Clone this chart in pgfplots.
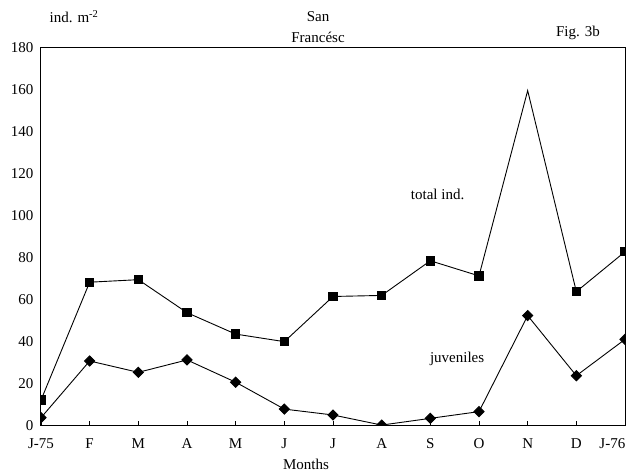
\documentclass[border=0pt]{standalone}
\usepackage{fontspec}
\setmainfont{Liberation Serif}
\usepackage{pgfplots}
\pgfplotsset{compat=1.18}
\begin{document}
\begin{tikzpicture}[font=\fontsize{15bp}{18bp}\selectfont]
\useasboundingbox (-41bp,-48.3bp) rectangle (585bp,425.7bp);
\begin{scope}
\clip (-41bp,-48.3bp) rectangle (585bp,425.7bp);
\begin{axis}[
  scale only axis, width=584bp, height=378.2bp,
  at={(0,0)}, anchor=south west,
  xmin=0, xmax=12, ymin=0, ymax=180,
  xtick={0,...,12},
  xticklabels={J-75,F,M,A,M,J,J,A,S,O,N,D,{}},
  ytick={0,20,...,180},
  xtick pos=bottom, ytick pos=left,
  tick align=inside, major tick length=4.5bp,
  ytick style={draw=none},
  xtick style={black, line width=0.8bp},
  x tick label style={anchor=base, yshift=-23bp},
  y tick label style={xshift=-4bp},
  axis line style={line width=1bp},
  /pgf/number format/assume math mode=true,
  clip marker paths=true,
]
\addplot[black, line width=0.9bp, mark=square*, mark size=4.2bp,
  mark indices={1,2,3,4,5,6,7,8,9,10,12,13}] coordinates {
  (0,12.2) (1,68.3) (2,69.5) (3,53.8) (4,43.6) (5,40.0) (6,61.5)
  (7,62.0) (8,78.5) (9,71.3) (10,159.5) (11,63.8) (12,82.8)};
\addplot[black, line width=0.9bp, mark=square*, mark size=3.6bp,
  mark options={rotate=45}] coordinates {
  (0,3.8) (1,30.8) (2,25.4) (3,31.3) (4,20.7) (5,7.9) (6,5.1)
  (7,0.3) (8,3.5) (9,6.7) (10,52.4) (11,23.8) (12,41.1)};
\node at (axis cs:8.15,110) {total ind.};
\node at (axis cs:8.55,32) {juveniles};
\end{axis}
\node[anchor=base east, inner xsep=0pt] at (584.5bp,-23bp) {J-76};
\node at (33bp,408.7bp) {ind. m\textsuperscript{-2}};
\node at (277bp,408.7bp) {San};
\node at (277bp,388.7bp) {Francésc};
\node at (537bp,392.7bp) {Fig. 3b};
\node at (265bp,-39bp) {Months};
\end{scope}
\end{tikzpicture}
\end{document}
